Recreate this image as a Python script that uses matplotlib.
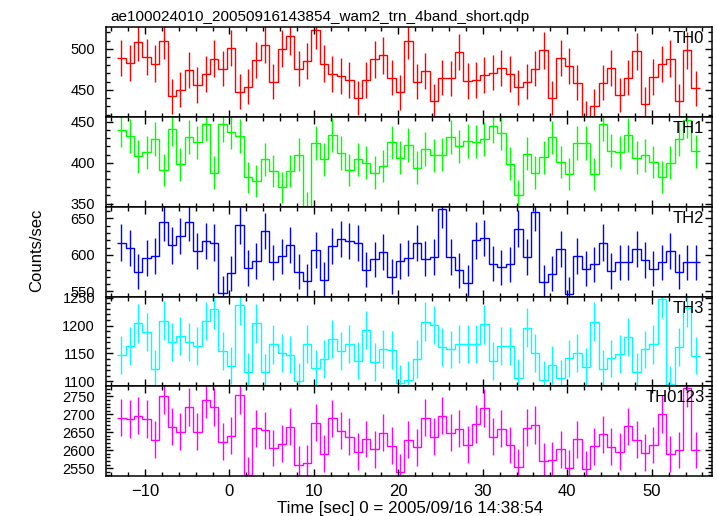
import numpy as np
from matplotlib import pyplot as plt
from matplotlib.ticker import MultipleLocator

plt.rcParams['font.family'] = ['Liberation Sans', 'DejaVu Sans']

# 1 s bins, centres from -12.8 s
time = np.arange(69) - 12.8
bin_width = 1.0

th0 = [489, 483, 508, 490, 482, 510, 442, 450, 474, 456,
       469, 488, 476, 501, 448, 454, 486, 505, 460, 500,
       515, 476, 485, 523, 482, 469, 467, 462, 440, 462,
       487, 492, 465, 447, 510, 460, 473, 436, 465, 464,
       496, 461, 462, 468, 471, 477, 469, 453, 460, 476,
       498, 440, 489, 479, 459, 416, 430, 459, 477, 444,
       465, 497, 433, 466, 481, 488, 436, 498, 452]
th1 = [440, 433, 408, 413, 429, 391, 441, 398, 432, 425,
       448, 388, 447, 438, 433, 382, 378, 404, 390, 370,
       390, 410, 345, 424, 404, 434, 412, 391, 404, 400,
       388, 396, 425, 406, 422, 394, 417, 409, 410, 432,
       420, 427, 426, 429, 445, 437, 399, 360, 411, 388,
       407, 431, 401, 386, 424, 424, 386, 448, 415, 413,
       434, 406, 409, 401, 383, 400, 429, 452, 414]
th2 = [617, 610, 577, 596, 599, 645, 613, 626, 645, 606,
       619, 617, 548, 575, 641, 582, 592, 633, 590, 598,
       614, 577, 564, 607, 566, 612, 622, 619, 616, 580,
       594, 604, 570, 592, 596, 616, 595, 597, 663, 597,
       579, 562, 620, 623, 588, 583, 587, 636, 597, 659,
       563, 574, 608, 546, 599, 581, 587, 617, 578, 590,
       590, 608, 593, 581, 590, 606, 577, 590, 590]
th3 = [1147, 1164, 1204, 1188, 1122, 1209, 1171, 1181, 1171, 1163,
       1208, 1229, 1154, 1128, 1237, 1117, 1204, 1116, 1166, 1150,
       1148, 1100, 1167, 1123, 1140, 1176, 1155, 1167, 1137, 1192,
       1135, 1158, 1156, 1096, 1103, 1140, 1207, 1201, 1161, 1157,
       1167, 1167, 1167, 1202, 1136, 1163, 1163, 1106, 1196, 1150,
       1103, 1129, 1105, 1141, 1151, 1126, 1207, 1122, 1141, 1149,
       1180, 1117, 1157, 1166, 1248, 1095, 1161, 1232, 1146]
th0123 = [2690, 2687, 2696, 2687, 2629, 2752, 2665, 2651, 2720, 2651,
          2741, 2720, 2624, 2640, 2754, 2532, 2661, 2655, 2606, 2618,
          2665, 2560, 2564, 2677, 2590, 2689, 2654, 2637, 2596, 2631,
          2602, 2649, 2613, 2538, 2629, 2608, 2690, 2638, 2696, 2649,
          2660, 2615, 2673, 2718, 2638, 2660, 2614, 2554, 2663, 2670,
          2570, 2573, 2602, 2550, 2630, 2547, 2611, 2644, 2610, 2596,
          2667, 2629, 2593, 2614, 2701, 2589, 2600, 2773, 2600]

bands = ['TH0', 'TH1', 'TH2', 'TH3', 'TH0123']
colors = ['#ff0000', '#00ff00', '#0000ff', '#00ffff', '#ff00ff']
ylims = [(417, 526), (346, 456), (543, 666), (1091, 1252), (2528, 2778)]
rates = [th0, th1, th2, th3, th0123]

fig = plt.figure(figsize=(7.17, 5.16), dpi=100)
axes = fig.subplots(5, 1, sharex=True, gridspec_kw=dict(hspace=0))
fig.subplots_adjust(left=0.148, right=0.9926, top=0.947, bottom=0.0775)

edges = np.append(time - bin_width / 2, time[-1] + bin_width / 2)

for ax, name, col, lim, r in zip(axes, bands, colors, ylims, rates):
    r = np.array(r, dtype=float)
    err = np.sqrt(r / bin_width)  # counting errors
    ax.stairs(r, edges, baseline=None, color=col, lw=1.0)
    ax.errorbar(time, r, yerr=err, fmt='none', ecolor=col, elinewidth=1.0)
    ax.set_ylim(*lim)
    ax.yaxis.set_major_locator(MultipleLocator(50))
    ax.yaxis.set_minor_locator(MultipleLocator(10))
    ax.tick_params(which='both', direction='in', top=True, right=True,
                   width=1.0, labelsize=10.5)
    ax.tick_params(which='major', length=5)
    ax.tick_params(which='minor', length=2.8)
    ax.tick_params(axis='y', pad=8)
    for s in ax.spines.values():
        s.set_linewidth(1.1)
    ax.text(0.988, 0.955, name, transform=ax.transAxes, ha='right', va='top',
            fontsize=12)

axes[-1].set_xlim(-14.6, 57.1)
axes[-1].xaxis.set_major_locator(MultipleLocator(10))
axes[-1].xaxis.set_minor_locator(MultipleLocator(2))
axes[-1].tick_params(axis='x', labelsize=12, pad=6)

fig.text(110 / 717, 1 - 20.7 / 516, 'ae100024010_20050916143854_wam2_trn_4band_short.qdp',
         ha='left', va='baseline', fontsize=11)
fig.text(37 / 717, 1 - 250 / 516, 'Counts/sec', rotation=90, ha='center',
         va='center', fontsize=12)
fig.text(410 / 717, 1 - 513 / 516, 'Time [sec] 0 = 2005/09/16 14:38:54',
         ha='center', va='baseline', fontsize=12.2)

fig.savefig('out.png', dpi=100)
